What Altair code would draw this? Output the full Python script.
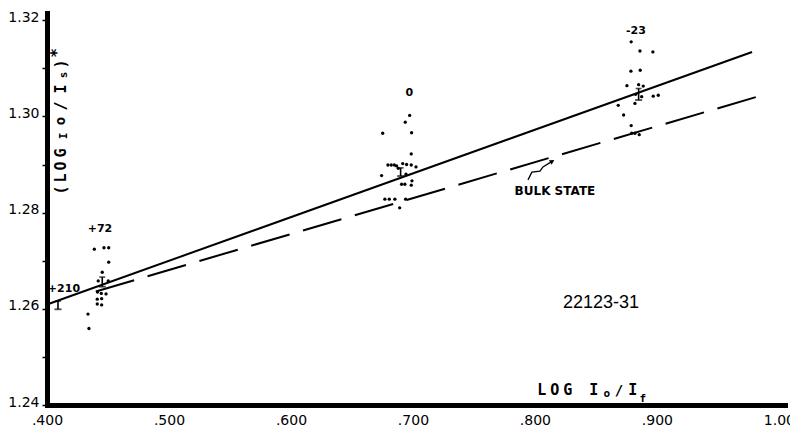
import altair as alt
import pandas as pd

# ---------------- data ----------------
# cluster "+72"
c72_x = [0.4388, 0.4467, 0.4506, 0.4506, 0.4453, 0.4420, 0.4502, 0.4414, 0.4445,
         0.4484, 0.4412, 0.4448, 0.4412, 0.4448, 0.4336, 0.4344]
c72_y = [1.2724, 1.2727, 1.2727, 1.2697, 1.2676, 1.2658, 1.2658, 1.2635, 1.2632,
         1.2631, 1.2620, 1.2621, 1.2610, 1.2608, 1.2589, 1.2559]
# cluster "0"
c0_x = [0.6973, 0.6937, 0.6752, 0.6989, 0.6986, 0.6795, 0.6822, 0.6847, 0.6866,
        0.6916, 0.6948, 0.6986, 0.7025, 0.6880, 0.6743, 0.6992, 0.6907, 0.6934,
        0.6986, 0.6770, 0.6806, 0.6852, 0.6940, 0.6891, 0.6943]
c0_y = [1.3002, 1.2988, 1.2965, 1.2966, 1.2922, 1.2899, 1.2899, 1.2899, 1.2897,
        1.2902, 1.2900, 1.2899, 1.2895, 1.2892, 1.2877, 1.2866, 1.2859, 1.2859,
        1.2857, 1.2828, 1.2828, 1.2828, 1.2828, 1.2810, 1.2880]
# cluster "-23"
c23_x = [0.8789, 0.8861, 0.8967, 0.8787, 0.8863, 0.8754, 0.8850, 0.8888, 0.8825,
         0.8875, 0.8970, 0.9011, 0.8683, 0.8820, 0.8727, 0.8789, 0.8793, 0.8820, 0.8855]
c23_y = [1.3155, 1.3136, 1.3134, 1.3094, 1.3096, 1.3064, 1.3066, 1.3063, 1.3046,
         1.3041, 1.3042, 1.3044, 1.3023, 1.3027, 1.3003, 1.2981, 1.2965, 1.2965, 1.2962]

# mean values with error bars
err_x = [0.4090, 0.4453, 0.6899, 0.8850]
err_lo = [1.2599, 1.2646, 1.2876, 1.3034]
err_hi = [1.2616, 1.2666, 1.2893, 1.3058]

# fitted line and bulk-state line
solid_x = [0.400, 0.978]
solid_y = [1.2609, 1.3134]
bulk_x = [0.440, 0.989]
bulk_y = [1.2636, 1.3046]

# cluster labels
lab_text = ["+210", "+72", "0", "-23"]
lab_x = [0.4139, 0.4434, 0.6970, 0.8828]
lab_y = [1.2641, 1.2766, 1.3048, 1.3177]

# annotations
bulk_label = "BULK STATE"
bulk_label_xy = (0.8164, 1.2845)
arrow_x = [0.7943, 0.7975, 0.8041, 0.8066, 0.8137]
arrow_y = [1.2868, 1.2884, 1.2886, 1.2895, 1.2906]
id_label = "22123-31"
id_label_xy = (0.8541, 1.2612)

x_ticks = [0.4, 0.5, 0.6, 0.7, 0.8, 0.9, 1.0]
y_ticks = [round(1.24 + 0.01 * i, 2) for i in range(9)]

# axis titles (drawn glyph by glyph, like lettering-guide text)
xt_anchor = (0.8057, 1.2421)
xt_glyphs = ["L", "O", "G", "I", "o", "/", "I", "f"]
yt_anchor = (0.4115, 1.2847)
yt_glyphs = ["(", "L", "O", "G", "I", "o", "/", "I", "s", ")", "*"]

# layout of those glyphs (offsets in px, font sizes)
xt_dx = [0, 13, 26, 52, 65, 77, 91, 101]
xt_dy = [0, 0, 0, 0, 2, 0, 0, 7]
xt_fs = [15, 15, 15, 15, 11, 14, 15, 11]
yt_dx = [0, 12, 24, 37, 54, 69, 84, 101, 115, 126, 137]
yt_dy = [0, 0, 0, 0, 3, 0, 0, 0, 3, 0, -4]
yt_fs = [15, 15, 15, 15, 11, 14, 15, 15, 11, 15, 16]

# ---------------- build ----------------
X_SCALE = alt.Scale(domain=[0.4, 1.005], nice=False, zero=False)
Y_SCALE = alt.Scale(domain=[1.24, 1.3215], nice=False, zero=False)
FONT = "DejaVu Sans"
MONO = "DejaVu Sans Mono"

x_axis = alt.Axis(values=x_ticks, title=None, grid=False, ticks=False,
                  domainWidth=5, domainColor="black", domainCap="square",
                  labelExpr="datum.value >= 0.999 ? '1.00' : substring(format(datum.value, '.3f'), 1)",
                  labelFont=FONT, labelFontSize=14, labelColor="black",
                  labelPadding=8, labelFlush=False, labelOverlap=False)
y_axis = alt.Axis(values=y_ticks, title=None, grid=False, tickSize=5, tickWidth=1.5,
                  tickColor="black", domainWidth=5, domainColor="black", domainCap="square",
                  labelExpr="round(datum.value*100) % 2 == 0 ? format(datum.value, '.2f') : ''",
                  labelFont=FONT, labelFontSize=14, labelColor="black",
                  labelPadding=3, labelFlush=False, labelOverlap=False,
                  labelBaseline="middle", labelOffset=-3)


def xq(f):
    return alt.X(f"{f}:Q", scale=X_SCALE, axis=x_axis, title=None)


def yq(f):
    return alt.Y(f"{f}:Q", scale=Y_SCALE, axis=y_axis, title=None)


pts = pd.DataFrame({
    "x": c72_x + c0_x + c23_x,
    "y": c72_y + c0_y + c23_y,
})

points = alt.Chart(pts).mark_circle(size=11, color="black", opacity=1).encode(
    x=xq("x"), y=yq("y"))

solid = alt.Chart(pd.DataFrame({"x": solid_x, "y": solid_y})).mark_line(
    color="black", strokeWidth=2).encode(x=xq("x"), y=yq("y"))

bulk = alt.Chart(pd.DataFrame({"x": bulk_x, "y": bulk_y})).mark_line(
    color="black", strokeWidth=2, strokeDash=[40, 14]).encode(x=xq("x"), y=yq("y"))

err_df = pd.DataFrame({"x": err_x, "y": err_lo, "hi": err_hi})
err_rule = alt.Chart(err_df).mark_rule(color="black", strokeWidth=1.6).encode(
    x=xq("x"), y=yq("y"), y2="hi")
err_top = alt.Chart(err_df).mark_tick(color="black", orient="horizontal", size=6,
                                      thickness=1.6).encode(x=xq("x"), y=yq("hi"))
err_bot = alt.Chart(err_df).mark_tick(color="black", orient="horizontal", size=7,
                                      thickness=1.8).encode(x=xq("x"), y=yq("y"))

labels = alt.Chart(pd.DataFrame({"x": lab_x, "y": lab_y, "t": lab_text})).mark_text(
    font=FONT, fontSize=11, fontWeight="bold", color="black", baseline="middle").encode(
    x=xq("x"), y=yq("y"), text="t:N")

bulk_txt = alt.Chart(pd.DataFrame({"x": [bulk_label_xy[0]], "y": [bulk_label_xy[1]],
                                   "t": [bulk_label]})).mark_text(
    font=FONT, fontSize=12, fontWeight="bold", color="black", baseline="middle").encode(
    x=xq("x"), y=yq("y"), text="t:N")

arrow_df = pd.DataFrame({"x": arrow_x, "y": arrow_y, "o": list(range(len(arrow_x)))})
arrow = alt.Chart(arrow_df).mark_line(color="black", strokeWidth=1.3).encode(
    x=xq("x"), y=yq("y"), order="o:Q")
arrow_head = alt.Chart(arrow_df.tail(1)).mark_point(
    shape="triangle", filled=True, color="black", size=28, angle=59, opacity=1).encode(
    x=xq("x"), y=yq("y"))

id_txt = alt.Chart(pd.DataFrame({"x": [id_label_xy[0]], "y": [id_label_xy[1]],
                                 "t": [id_label]})).mark_text(
    font="Liberation Sans", fontSize=18, color="black", baseline="middle").encode(
    x=xq("x"), y=yq("y"), text="t:N")

layers = [points, bulk, solid, err_rule, err_top, err_bot, labels, bulk_txt, arrow,
          arrow_head, id_txt]

xt_df = pd.DataFrame({"x": [xt_anchor[0]], "y": [xt_anchor[1]]})
for g, dx, dy, fs in zip(xt_glyphs, xt_dx, xt_dy, xt_fs):
    layers.append(alt.Chart(xt_df).mark_text(
        text=g, font=MONO, fontSize=fs, fontWeight="bold", color="black", align="center",
        baseline="alphabetic", dx=dx, dy=dy).encode(x=xq("x"), y=yq("y")))

yt_df = pd.DataFrame({"x": [yt_anchor[0]], "y": [yt_anchor[1]]})
for g, dx, dy, fs in zip(yt_glyphs, yt_dx, yt_dy, yt_fs):
    layers.append(alt.Chart(yt_df).mark_text(
        text=g, font=MONO, fontSize=fs, fontWeight="bold", color="black", align="center",
        baseline="middle", angle=270, dx=dx, dy=dy).encode(x=xq("x"), y=yq("y")))

chart = alt.layer(*layers).properties(
    width=738, height=392,
    padding={"left": 47, "top": 13, "right": 5, "bottom": 27},
    autosize=alt.AutoSizeParams(type="none"),
    background="white",
).configure_view(stroke=None)

chart.save("out.html", embed_options={"renderer": "svg", "actions": False})
